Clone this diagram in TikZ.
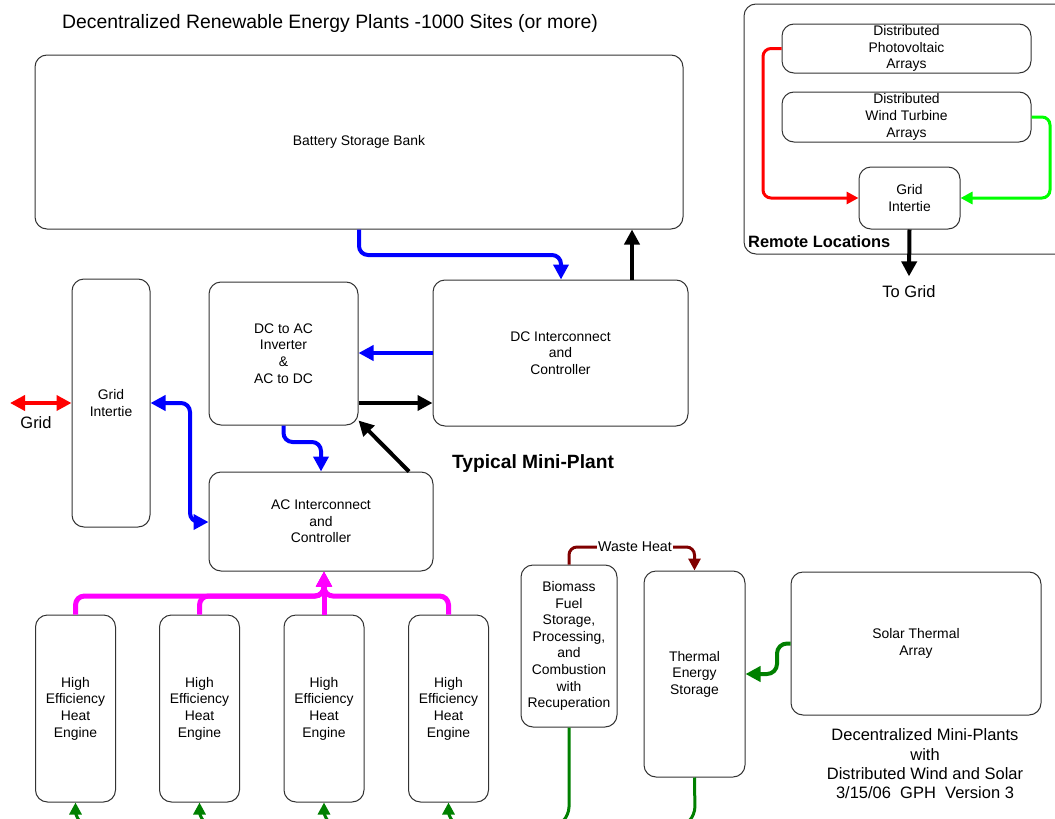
\documentclass[tikz,border=0pt]{standalone}
\usepackage{fontspec}
\setmainfont{Liberation Sans}
\usetikzlibrary{arrows.meta}
\definecolor{heatgreen}{RGB}{0,128,0}
\definecolor{wasteheat}{RGB}{128,0,0}
\definecolor{busmagenta}{RGB}{255,0,255}
\definecolor{windgreen}{RGB}{0,255,0}
\begin{document}
\begin{tikzpicture}[x=1pt,y=-1pt,
  >={Triangle[length=15pt,width=15pt]},
  blk/.style={draw=black!80,line width=1pt,rounded corners=12pt,align=center,inner sep=0pt,font=\fontsize{13.9}{16.6}\selectfont},
  lbl/.style={align=center,font=\fontsize{16.5}{19.3}\selectfont},
  link/.style={line width=4pt,rounded corners=9pt},
  thin/.style={line width=3pt,rounded corners=8pt,>={Triangle[length=12pt,width=12pt]}}]
\useasboundingbox (0,0) rectangle (1055,819);
\clip (0,0) rectangle (1055,819);

\node[font=\fontsize{19.4}{23}\selectfont] (title) at (330,23) {Decentralized Renewable Energy Plants -1000 Sites (or more)};
\node[blk,minimum width=648pt,minimum height=174pt] (bsb) at (359,142) {Battery Storage Bank};
\node[blk,minimum width=78pt,minimum height=248pt] (gridL) at (111,403) {Grid\\Intertie};
\node[blk,minimum width=149pt,minimum height=143pt] (inv) at (283.5,353.5) {DC to AC\\Inverter\\\&\\AC to DC};
\node[blk,minimum width=255pt,minimum height=146pt] (dcic) at (560.5,353) {DC Interconnect\\and\\Controller};
\node[blk,minimum width=224pt,minimum height=99pt] (acic) at (321,521.5) {AC Interconnect\\and\\Controller};
\foreach \i/\x in {1/75.5,2/199.5,3/324,4/448.5}
  \node[blk,minimum width=80pt,minimum height=187pt] (he\i) at (\x,708.5) {High\\Efficiency\\Heat\\Engine};
\node[blk,minimum width=96pt,minimum height=162pt] (bio) at (569,646) {Biomass\\Fuel\\Storage,\\Processing,\\and\\Combustion\\with\\Recuperation};
\node[blk,minimum width=101pt,minimum height=206pt] (tes) at (694.5,674) {Thermal\\Energy\\Storage};
\node[blk,minimum width=250pt,minimum height=143pt] (sta) at (916,643.5) {Solar Thermal\\Array};
\node[font=\bfseries\fontsize{19.2}{23}\selectfont] (mini) at (533,464) {Typical Mini-Plant};
\node[lbl] (caption) at (925,764) {Decentralized Mini-Plants\\with\\Distributed Wind and Solar\\3/15/06~~GPH~~Version 3};

% remote locations
\draw[draw=black!80,line width=1pt,rounded corners=12pt] (744,4) rectangle (1068,254);
\node[blk,minimum width=249pt,minimum height=49pt] (pv) at (906.5,48.5) {Distributed\\Photovoltaic\\Arrays};
\node[blk,minimum width=249pt,minimum height=50pt] (wind) at (906.5,117) {Distributed\\Wind Turbine\\Arrays};
\node[blk,minimum width=101pt,minimum height=62pt] (gridR) at (909.5,198) {Grid\\Intertie};
\node[anchor=west,inner sep=0pt,font=\bfseries\fontsize{16.4}{19}\selectfont] (remote) at (748,242) {Remote Locations};
\node[lbl] (togrid) at (909,292) {To Grid};
\draw[thin,red,->] (pv.west) -| (763,198) -- (gridR.west);
\draw[thin,windgreen,->] (wind.east) -| (1050,198) -- (gridR.east);
\draw[link,->] (gridR.south) -- ([yshift=6pt]togrid.north);

% mini-plant
\draw[link,blue,->] (bsb.south -| 359,0) |- (561,255) -- (dcic.north -| 561,0);
\draw[link,->] (dcic.north -| 632,0) -- (bsb.south -| 632,0);
\draw[link,blue,->] (dcic.west) -- (inv.east |- dcic.west);
\draw[link,->] (inv.east |- 0,403) -- (dcic.west |- 0,403);
\draw[link,->] (acic.north -| 409,0) -- ([yshift=5pt]inv.south east);
\draw[link,blue,->] (inv.south) |- (321,442) -- (acic.north -| 321,0);
\draw[link,blue,<->] (gridL.east |- 0,403) -| (190,522) -- (acic.west |- 0,522);
\coordinate (gridout) at (10,403);
\draw[red,line width=4pt,<->] (gridout) -- (gridL.west |- gridout);
\node[lbl] (gridlbl) at (36,423) {Grid};

\coordinate (bus) at (he3.north |- 0,596);
\foreach \i in {1,2,4}
  \draw[link,busmagenta,line width=5pt,->] (he\i.north) |- (bus) -- (acic.south -| bus);
\draw[link,busmagenta,line width=5pt,->] (he3.north) -- (acic.south -| bus);

\foreach \i in {1,...,4}
  \draw[thin,heatgreen,->] ([xshift=7pt,yshift=-22pt]he\i.south) to[out=135,in=-90] (he\i.south);
\draw[thin,heatgreen] (bio.south) -- (569,815) -- (555,829);
\draw[thin,heatgreen] (tes.south) -- (695,815) -- (681,829);
\draw[link,heatgreen,rounded corners=10pt,->] (sta.west) -| (777,674) -- (tes.east);

\node[inner sep=1pt,font=\fontsize{14.2}{17}\selectfont] (waste) at (635,547) {Waste Heat};
\draw[thin,wasteheat] (bio.north) |- (waste.west);
\draw[thin,wasteheat,->] (waste.east) -| (tes.north);
\end{tikzpicture}
\end{document}
